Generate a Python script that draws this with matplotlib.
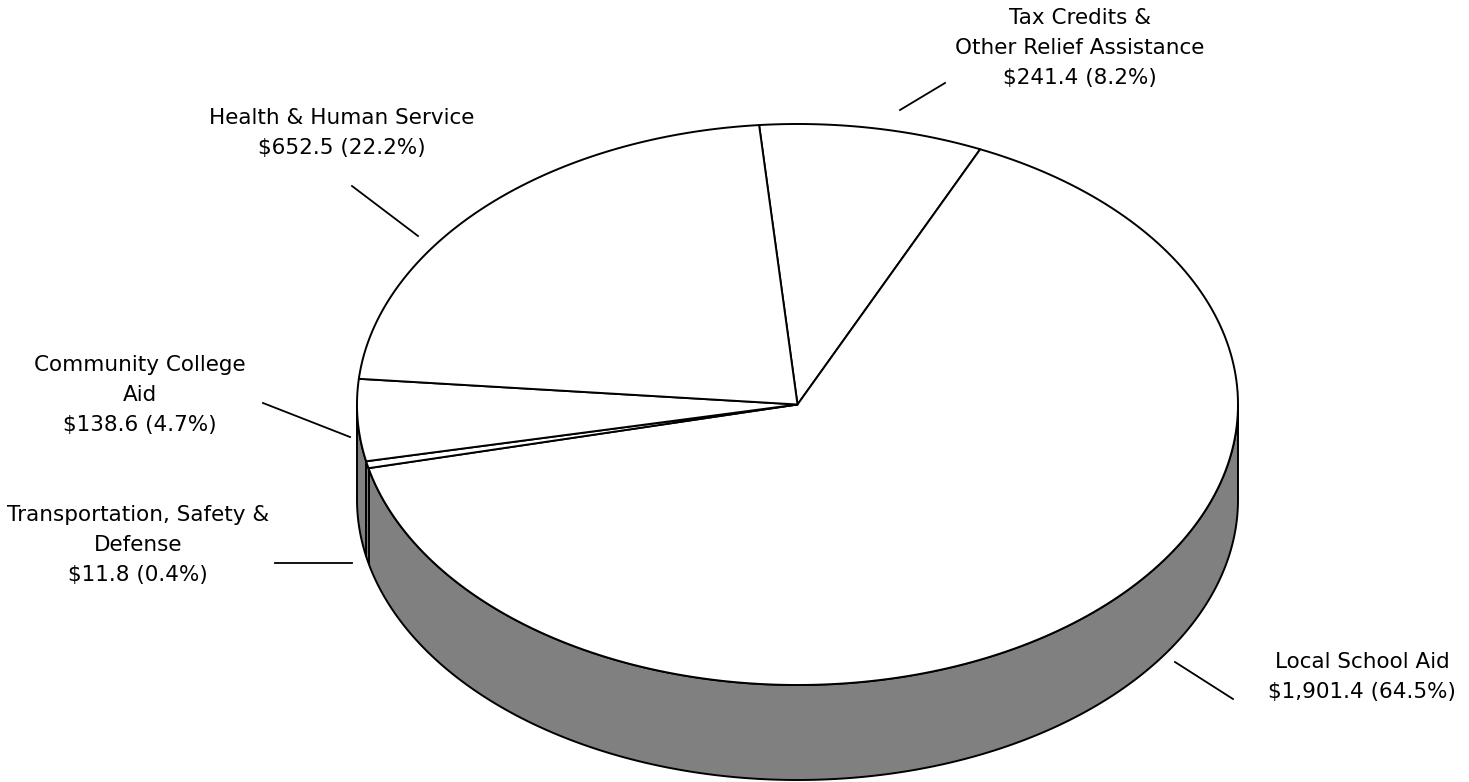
import matplotlib.pyplot as plt
from matplotlib.patches import Polygon
import numpy as np

# budget slices, clockwise from the top of the pie
names = ["Tax Credits &\nOther Relief Assistance",
         "Local School Aid",
         "Transportation, Safety &\nDefense",
         "Community College\nAid",
         "Health & Human Service"]
amounts = [241.4, 1901.4, 11.8, 138.6, 652.5]
pcts = [8.2, 64.5, 0.4, 4.7, 22.2]

# label placement (pixels) and leader lines
label_xy = [(1080, 48), (1362, 677), (138, 545), (140, 395), (342, 133)]
leaders = [((900, 110), (945, 83)), ((1175, 662), (1233, 699)),
           ((275, 563), (352, 563)), ((263, 403), (350, 437)),
           ((352, 186), (418, 236))]

cx, cy = 797.5, 404.5
rx, ry = 440.5, 280.5
depth = 95
start = 95.0


def pt(deg):
    t = np.radians(deg)
    return cx + rx * np.cos(t), cy - ry * np.sin(t)


fig = plt.figure(figsize=(14.69, 7.82), dpi=100)
ax = fig.add_axes([0, 0, 1, 1])
ax.set_xlim(0, 1469)
ax.set_ylim(782, 0)
ax.axis('off')

lw = 1.4

# side of the cake (front half)
t = np.linspace(180, 360, 400)
xs, ys = pt(t)
side = np.column_stack([np.r_[xs, xs[::-1]], np.r_[ys, ys[::-1] + depth]])
ax.add_patch(Polygon(side, closed=True, facecolor='#808080',
                     edgecolor='black', lw=lw, zorder=1))

# slice boundaries
total = sum(amounts)
bounds = [start]
for v in amounts:
    bounds.append(bounds[-1] - v / total * 360)

for b in bounds:
    a = b % 360
    if 180 < a < 360:
        x, y = pt(a)
        ax.plot([x, x], [y, y + depth], color='black', lw=lw, zorder=2)

# top face
for i in range(len(amounts)):
    arc = np.linspace(bounds[i], bounds[i + 1], 200)
    ax_, ay_ = pt(arc)
    poly = np.column_stack([np.r_[cx, ax_], np.r_[cy, ay_]])
    ax.add_patch(Polygon(poly, closed=True, facecolor='white',
                         edgecolor='black', lw=lw, zorder=3,
                         joinstyle='round'))

# labels
for i in range(len(names)):
    txt = names[i] + "\n" + "${:,.1f} ({:.1f}%)".format(amounts[i], pcts[i])
    ax.text(label_xy[i][0], label_xy[i][1], txt, ha='center', va='center',
            fontsize=15.5, family='DejaVu Sans', linespacing=1.62)
    (x0, y0), (x1, y1) = leaders[i]
    ax.plot([x0, x1], [y0, y1], color='black', lw=1.3)

plt.savefig('out.png', dpi=100, facecolor='white')
